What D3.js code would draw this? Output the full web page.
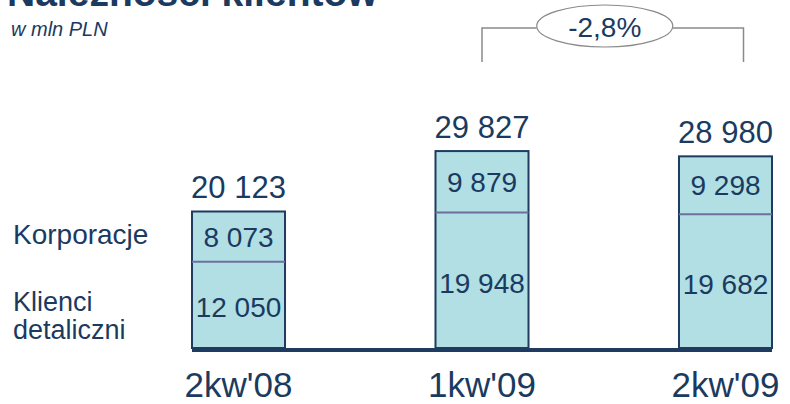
<!DOCTYPE html>
<html>
<head>
<meta charset="utf-8">
<script src="https://cdn.jsdelivr.net/npm/d3@7"></script>
<style>
  body { margin: 0; background: #fff; }
  svg text { font-family: "Liberation Sans", Arial, sans-serif; fill: #1b3a60; }
</style>
</head>
<body>
<div id="chart"></div>
<script>
// data
const quarters = ["2kw'08", "1kw'09", "2kw'09"];
const retail = [12050, 19948, 19682];      // Klienci detaliczni
const corporate = [8073, 9879, 9298];      // Korporacje
const totals = [20123, 29827, 28980];
const seriesNames = ["Korporacje", "Klienci detaliczni"];
const changeLabel = "-2,8%";

const fmt = v => d3.format(",")(v).replace(/,/g, " ");

const width = 790, height = 404;
const navy = "#1f3b5f";

const svg = d3.select("#chart").append("svg")
    .attr("width", width).attr("height", height);

const x = d3.scaleBand().domain(quarters).range([192, 772]).paddingInner(0.618);
const y = d3.scaleLinear().domain([-1800, 30000]).range([348, 150]);

// title (cut off at top) and unit
svg.append("text")
    .attr("x", 7).attr("y", 6)
    .style("font-size", "39px").style("font-weight", "bold")
    .text("Należności klientów");

svg.append("text")
    .attr("x", 11).attr("y", 36)
    .style("font-size", "20px").style("font-style", "italic")
    .text("w mln PLN");

// stacked bars
const rows = quarters.map((q, i) => ({q, retail: retail[i], corp: corporate[i], total: totals[i]}));

const g = svg.selectAll(".bar").data(rows).enter().append("g").attr("class", "bar");

g.append("rect")
    .attr("x", d => x(d.q))
    .attr("y", d => y(d.retail + d.corp))
    .attr("width", x.bandwidth())
    .attr("height", d => y.range()[0] - y(d.retail + d.corp))
    .attr("fill", "#b1dfe4")
    .attr("stroke", navy)
    .attr("stroke-width", 2);

g.append("line")
    .attr("x1", d => x(d.q)).attr("x2", d => x(d.q) + x.bandwidth())
    .attr("y1", d => y(d.retail)).attr("y2", d => y(d.retail))
    .attr("stroke", "#6f6f9e").attr("stroke-width", 2);

g.append("text")
    .attr("x", d => x(d.q) + x.bandwidth() / 2)
    .attr("y", d => (y(d.retail) + y(d.retail + d.corp)) / 2)
    .attr("dy", "0.36em")
    .attr("text-anchor", "middle")
    .style("font-size", "28px")
    .text(d => fmt(d.corp));

g.append("text")
    .attr("x", d => x(d.q) + x.bandwidth() / 2)
    .attr("y", d => (y(d.retail) + y.range()[0]) / 2)
    .attr("dy", "0.45em")
    .attr("text-anchor", "middle")
    .style("font-size", "28px")
    .text(d => fmt(d.retail));

g.append("text")
    .attr("x", d => x(d.q) + x.bandwidth() / 2)
    .attr("y", d => y(d.retail + d.corp) - 13)
    .attr("text-anchor", "middle")
    .style("font-size", "31px")
    .text(d => fmt(d.total));

// baseline
svg.append("line")
    .attr("x1", x(quarters[0])).attr("x2", x(quarters[2]) + x.bandwidth())
    .attr("y1", 350).attr("y2", 350)
    .attr("stroke", navy).attr("stroke-width", 4);

// category labels
svg.selectAll(".cat").data(quarters).enter().append("text")
    .attr("class", "cat")
    .attr("x", d => x(d) + x.bandwidth() / 2)
    .attr("y", 397)
    .attr("text-anchor", "middle")
    .style("font-size", "35px")
    .text(d => d);

// series labels on the left
svg.append("text").attr("x", 13).attr("y", 244)
    .style("font-size", "28px").text(seriesNames[0]);
svg.append("text").attr("x", 13).attr("y", 311)
    .style("font-size", "27px").text("Klienci");
svg.append("text").attr("x", 13).attr("y", 339)
    .style("font-size", "27px").text("detaliczni");

// change bracket
const bx1 = x(quarters[1]) + x.bandwidth() / 2;
const bx2 = x(quarters[2]) + x.bandwidth() / 2 + 18;
const cx = (bx1 + bx2) / 2 - 8, cy = 26, rx = 68, ry = 21;
const by = 28;
svg.append("path")
    .attr("d", `M${bx1},62V${by}H${cx - rx}M${cx + rx},${by}H${bx2}V62`)
    .attr("fill", "none").attr("stroke", "#8a8a8a").attr("stroke-width", 1.5);
svg.append("ellipse")
    .attr("cx", cx).attr("cy", cy).attr("rx", rx).attr("ry", ry)
    .attr("fill", "#fff").attr("stroke", "#8a8a8a").attr("stroke-width", 1.2);
svg.append("text")
    .attr("x", cx).attr("y", 37)
    .attr("text-anchor", "middle")
    .style("font-size", "28px")
    .text(changeLabel);
</script>
</body>
</html>
